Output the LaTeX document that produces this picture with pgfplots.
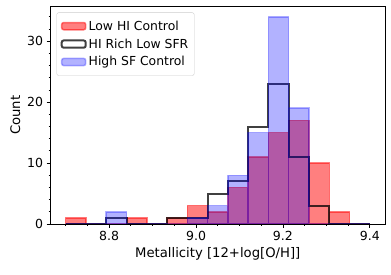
\documentclass[border=0pt]{standalone}
\usepackage{pgfplots}
\pgfplotsset{compat=1.18}
\usepackage{fontspec}
\setmainfont{DejaVu Sans}
\begin{document}
\begin{tikzpicture}
\begin{axis}[
  scale only axis, width=334.5pt, height=217.5pt,
  xmin=8.665, xmax=9.435, ymin=0, ymax=35.7,
  xtick={8.8,9.0,9.2,9.4}, xticklabels={8.8,9.0,9.2,9.4},
  minor xtick={8.7,8.75,8.85,8.9,8.95,9.05,9.1,9.15,9.25,9.3,9.35},
  ytick={0,10,20,30}, yticklabels={0,10,20,30},
  minor ytick={2,4,6,8,12,14,16,18,22,24,26,28,32,34},
  tick align=outside, tick pos=left,
  major tick length=4pt, minor tick length=2pt,
  every tick/.style={black, line width=0.8pt},
  axis line style={line width=0.8pt},
  ticklabel style={font=\fontsize{12.5}{15}\selectfont},
  /pgf/number format/assume math mode=true,
  label style={font=\fontsize{13.2}{16}\selectfont},
  xlabel={Metallicity [12+log[O/H]]}, ylabel={Count},
  legend cell align=left,
  legend style={at={(0,1)}, anchor=north west, xshift=6pt, yshift=-6pt,
    draw=black!20, rounded corners=2pt, fill=white,
    font=\fontsize{12.4}{15}\selectfont, row sep=3pt, inner xsep=4pt, inner ysep=6pt},
]
\addplot[ybar interval, fill=red, fill opacity=0.5, draw=red, draw opacity=0.5, line width=1.5pt, line join=miter,
  legend image code/.code={\draw[fill=red, fill opacity=0.5, draw=red, draw opacity=0.5, line width=1.5pt] (0pt,-3.6pt) rectangle (24pt,3.6pt);}]
coordinates {(8.7,1)(8.74667,0)(8.79333,0)(8.84,1)(8.88667,0)(8.93333,1)(8.98,3)(9.02667,2)(9.07333,6)(9.12,11)(9.16667,15)(9.21333,17)(9.26,10)(9.30667,2)(9.35333,0)(9.4,0)};
\addlegendentry{Low HI Control}
\addplot[const plot, draw=black, draw opacity=0.75, line width=2pt, line join=miter,
  legend image code/.code={\draw[draw=black, draw opacity=0.75, line width=2pt] (0pt,-3.6pt) rectangle (24pt,3.6pt);}]
coordinates {(8.7,0)(8.74667,0)(8.79333,1)(8.84,0)(8.88667,0)(8.93333,1)(8.98,1)(9.02667,5)(9.07333,7)(9.12,16)(9.16667,23)(9.21333,11)(9.26,3)(9.30667,0)(9.35333,0)(9.4,0)};
\addlegendentry{HI Rich Low SFR}
\addplot[ybar interval, fill=blue, fill opacity=0.3, draw=blue, draw opacity=0.3, line width=1.5pt, line join=miter,
  legend image code/.code={\draw[fill=blue, fill opacity=0.3, draw=blue, draw opacity=0.3, line width=1.5pt] (0pt,-3.6pt) rectangle (24pt,3.6pt);}]
coordinates {(8.7,0)(8.74667,0)(8.79333,2)(8.84,0)(8.88667,0)(8.93333,0)(8.98,1)(9.02667,3)(9.07333,8)(9.12,15)(9.16667,34)(9.21333,19)(9.26,0)(9.30667,0)(9.35333,0)(9.4,0)};
\addlegendentry{High SF Control}
\coordinate (sw) at (rel axis cs:0,0);
\coordinate (ne) at (rel axis cs:1,1);
\end{axis}
\pgfresetboundingbox
\path[use as bounding box] ([xshift=-50.5pt,yshift=-50pt]sw) rectangle ([xshift=6pt,yshift=6.5pt]ne);
\end{tikzpicture}
\end{document}
